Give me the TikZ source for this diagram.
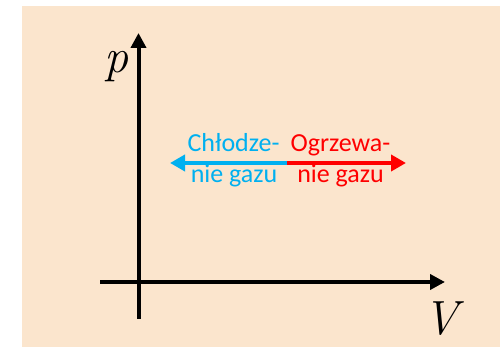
\documentclass[tikz,border=0pt]{standalone}
\usepackage{fontspec}
\setmainfont{Carlito}
\newfontfamily\axfont{Latin Modern Roman}
\usetikzlibrary{arrows.meta}

\definecolor{bgpeach}{HTML}{FBE5CD}
\definecolor{coolblue}{HTML}{00B0F0}
\definecolor{heatred}{HTML}{FF0000}

\begin{document}
\begin{tikzpicture}[
  x=1pt, y=1pt,
  axis/.style={line width=4pt, -{Triangle[length=15pt, width=15pt]}},
  flow/.style={line width=4.5pt, -{Triangle[length=15pt, width=16pt]}},
  axlabel/.style={font=\axfont\itshape\fontsize{48}{48}\selectfont},
  note/.style={anchor=base, inner sep=0pt, font=\fontsize{26}{26}\selectfont}
]
\useasboundingbox (0,0) rectangle (500,347);
\fill[bgpeach] (22,0) rectangle (500,341);

% axes
\coordinate (pbot) at (138.5,28);
\coordinate (ptop) at (138.5,314);
\coordinate (vleft) at (100,65);
\coordinate (vright) at (445,65);
\draw[axis] (pbot) -- (ptop);
\draw[axis] (vleft) -- (vright);
\node[axlabel] (plabel) at (116,280) {p};
\node[axlabel] (vlabel) at (441,28) {V};

% cooling / heating
\coordinate (mid) at (287,184);
\coordinate (cool) at (170,184);
\coordinate (heat) at (406,184);
\draw[flow, coolblue] (mid) -- (cool);
\draw[flow, heatred] (mid) -- (heat);

\node[note, text=coolblue] (coolup) at (233.5,195) {Chłodze-};
\node[note, text=coolblue] (coollow) at (234,164) {nie gazu};
\node[note, text=heatred] (heatup) at (340.5,195) {Ogrzewa-};
\node[note, text=heatred] (heatlow) at (340.5,164) {nie gazu};
\end{tikzpicture}
\end{document}
